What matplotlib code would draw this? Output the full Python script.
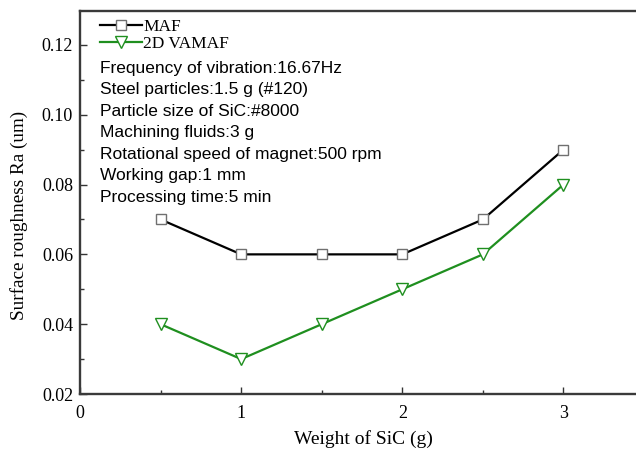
import matplotlib.pyplot as plt
from matplotlib.ticker import MultipleLocator

# data
sic_weight = [0.5, 1.0, 1.5, 2.0, 2.5, 3.0]
ra_maf = [0.07, 0.06, 0.06, 0.06, 0.07, 0.09]
ra_vamaf = [0.04, 0.03, 0.04, 0.05, 0.06, 0.08]

conditions = [
    "Frequency of vibration:16.67Hz",
    "Steel particles:1.5 g (#120)",
    "Particle size of SiC:#8000",
    "Machining fluids:3 g",
    "Rotational speed of magnet:500 rpm",
    "Working gap:1 mm",
    "Processing time:5 min",
]

serif = "Liberation Serif"
sans = "Liberation Sans"

fig = plt.figure(figsize=(6.36, 4.55), dpi=100)
ax = fig.add_axes([0.1258, 0.134, 0.8742, 0.8418])

green = "#1f8f1f"
ax.plot(sic_weight, ra_maf, color="black", lw=1.6, marker="s", ms=7,
        mfc="white", mec="#707070", mew=1.0, label="MAF")
ax.plot(sic_weight, ra_vamaf, color=green, lw=1.6, marker="v", ms=9,
        mfc="white", mec=green, mew=1.0, label="2D VAMAF")

# right part of the frame is cropped in the reference
ax.set_xlim(0, 3.45)
ax.set_ylim(0.02, 0.1297)
ax.xaxis.set_major_locator(MultipleLocator(1))
ax.xaxis.set_minor_locator(MultipleLocator(0.5))
ax.yaxis.set_major_locator(MultipleLocator(0.02))
ax.yaxis.set_minor_locator(MultipleLocator(0.01))
ax.yaxis.set_major_formatter(plt.FormatStrFormatter("%.2f"))
ax.xaxis.set_major_formatter(plt.FormatStrFormatter("%d"))

ax.tick_params(which="both", direction="in", width=1.0, colors="#333333")
ax.tick_params(which="major", length=5, labelsize=13, labelcolor="black")
ax.tick_params(which="minor", length=3)
ax.tick_params(axis="x", pad=8)
ax.tick_params(axis="y", pad=5)
for lbl in ax.get_xticklabels() + ax.get_yticklabels():
    lbl.set_fontfamily(serif)

ax.spines["right"].set_visible(False)
for s in ["left", "bottom", "top"]:
    ax.spines[s].set_linewidth(1.7)
    ax.spines[s].set_color("#3a3a3a")

ax.set_xlabel("Weight of SiC (g)", fontfamily=serif, fontsize=14)
ax.set_ylabel("Surface roughness Ra (um)", fontfamily=serif, fontsize=13.8)
ax.xaxis.set_label_coords(0.51, -0.095)
ax.yaxis.set_label_coords(-0.094, 0.467)

ax.legend(loc="upper left", bbox_to_anchor=(0.036, 0.98), frameon=False,
          handlelength=2.4, handletextpad=0.08, borderaxespad=0, borderpad=0,
          labelspacing=0.05, prop={"family": serif, "size": 12.5})

for i, line in enumerate(conditions):
    ax.text(0.036, 0.851 - i * 0.0561, line, transform=ax.transAxes,
            fontfamily=sans, fontsize=12.5, va="center", ha="left")

fig.savefig("out.png", dpi=100)
